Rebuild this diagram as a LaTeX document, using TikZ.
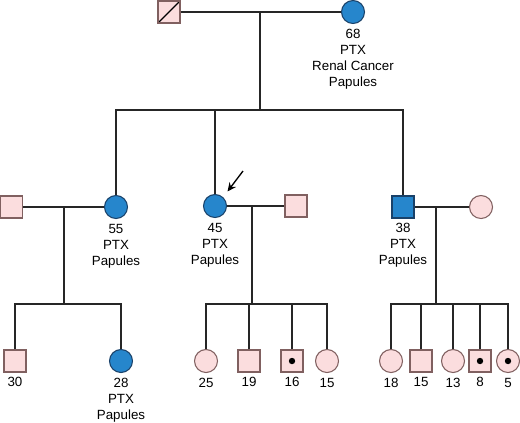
\documentclass[tikz,border=0pt]{standalone}
\usepackage{fontspec}
\setmainfont{Liberation Sans}
\usetikzlibrary{arrows.meta}
\definecolor{pinkfill}{RGB}{251,221,222}
\definecolor{pinkline}{RGB}{128,96,96}
\definecolor{bluefill}{RGB}{38,134,204}
\definecolor{blueline}{RGB}{25,65,105}
\tikzset{
  male/.style={rectangle,draw=pinkline,fill=pinkfill,minimum size=16.5pt,inner sep=0pt,line width=0.8pt},
  female/.style={circle,draw=pinkline,fill=pinkfill,minimum size=17.25pt,inner sep=0pt,line width=0.8pt},
  affected/.style={draw=blueline,fill=bluefill},
  carrier/.style={path picture={\fill[black] (path picture bounding box.center) circle (2.4pt);}},
  dead/.style={path picture={\draw[black,line width=0.9pt] (path picture bounding box.south west) -- (path picture bounding box.north east);}},
  info/.style={label={[font=\fontsize{10}{12}\selectfont,align=center,inner sep=0pt,label distance=3.5pt]below:#1}},
  line/.style={draw=black!85,line width=1pt}
}
\begin{document}
\begin{tikzpicture}[x=0.75pt,y=-0.75pt]
\useasboundingbox (0,0) rectangle (520,422);
% first generation
\node[male,dead] (f0) at (169,12) {};
\node[female,affected,info={68\\PTX\\Renal Cancer\\Papules}] (m0) at (353,12) {};
\coordinate (c0) at (260,12);
\coordinate (s0) at (260,110);
% second generation
\node[male] (h55) at (11.5,207) {};
\node[female,affected,info={55\\PTX\\Papules}] (g55) at (116,207) {};
\node[female,affected,info={45\\PTX\\Papules}] (g45) at (215,206) {};
\node[male] (h45) at (296,206) {};
\node[male,affected,info={38\\PTX\\Papules}] (g38) at (403,207) {};
\node[female] (w38) at (481,207) {};
\coordinate (j1) at (64,207);
\coordinate (j1b) at (64,304);
\coordinate (j2) at (252,206);
\coordinate (j2b) at (252,304);
\coordinate (j3) at (436,207);
\coordinate (j3b) at (436,304);
% third generation
\node[male,info=30] (a1) at (15,361) {};
\node[female,affected,info={28\\PTX\\Papules}] (a2) at (121,361) {};
\node[female,info=25] (b1) at (206,361) {};
\node[male,info=19] (b2) at (249,361) {};
\node[male,carrier,info=16] (b3) at (292,361) {};
\node[female,info=15] (b4) at (327,361) {};
\node[female,info=18] (d1) at (391,361) {};
\node[male,info=15] (d2) at (421,361) {};
\node[female,info=13] (d3) at (453,361) {};
\node[male,carrier,info=8] (d4) at (480,361) {};
\node[female,carrier,info=5] (d5) at (508,361) {};
% connectors
\draw[line] (f0) -- (m0);
\draw[line] (c0) -- (s0);
\draw[line] (g55) |- (s0) -| (g38);
\draw[line] (g45) -- (g45 |- s0);
\draw[line] (h55) -- (g55);
\draw[line] (g45) -- (h45);
\draw[line] (g38) -- (w38);
\draw[line] (j1) -- (j1b);
\draw[line] (j2) -- (j2b);
\draw[line] (j3) -- (j3b);
\draw[line] (a1) |- (j1b) -| (a2);
\draw[line] (b1) |- (j2b) -| (b4);
\foreach \k in {b2,b3} \draw[line] (\k) -- (\k |- j2b);
\draw[line] (d1) |- (j3b) -| (d5);
\foreach \k in {d2,d3,d4} \draw[line] (\k) -- (\k |- j3b);
% proband
\coordinate (pa) at (243,171);
\draw[line,black,-{Stealth[length=6.5pt,width=6pt]}] (pa) -- ([shift={(4,-6)}]g45.north east);
\end{tikzpicture}
\end{document}
